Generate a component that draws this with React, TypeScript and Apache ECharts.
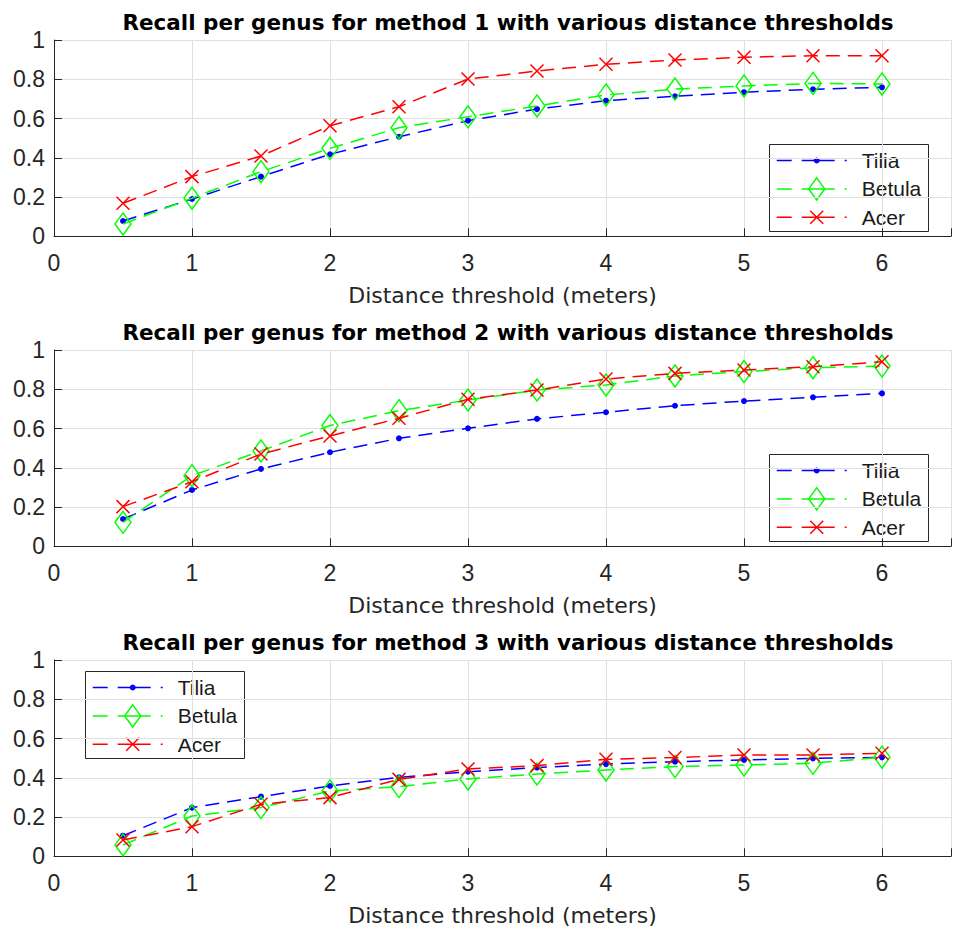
import React, { useEffect, useRef } from "react";
import * as echarts from "echarts";

// ---- Data ----
const THRESHOLDS = [0.5, 1, 1.5, 2, 2.5, 3, 3.5, 4, 4.5, 5, 5.5, 6];
const GENERA = ["Tilia", "Betula", "Acer"];
const TITLES = [
  "Recall per genus for method 1 with various distance thresholds",
  "Recall per genus for method 2 with various distance thresholds",
  "Recall per genus for method 3 with various distance thresholds",
];
const X_LABEL = "Distance threshold (meters)";

const M1_TILIA = [0.078, 0.19, 0.304, 0.418, 0.507, 0.589, 0.648, 0.691, 0.713, 0.734, 0.749, 0.759];
const M1_BETULA = [0.063, 0.194, 0.329, 0.448, 0.553, 0.609, 0.664, 0.72, 0.75, 0.766, 0.779, 0.776];
const M1_ACER = [0.168, 0.304, 0.409, 0.563, 0.66, 0.801, 0.842, 0.876, 0.898, 0.912, 0.92, 0.92];

const M2_TILIA = [0.139, 0.287, 0.394, 0.479, 0.55, 0.601, 0.649, 0.683, 0.716, 0.74, 0.759, 0.779];
const M2_BETULA = [0.122, 0.36, 0.486, 0.615, 0.691, 0.745, 0.796, 0.822, 0.868, 0.89, 0.91, 0.918];
const M2_ACER = [0.202, 0.329, 0.47, 0.562, 0.652, 0.749, 0.796, 0.852, 0.881, 0.898, 0.915, 0.94];

const M3_TILIA = [0.105, 0.248, 0.304, 0.358, 0.402, 0.431, 0.452, 0.47, 0.482, 0.491, 0.499, 0.504];
const M3_BETULA = [0.058, 0.205, 0.248, 0.333, 0.355, 0.394, 0.419, 0.44, 0.457, 0.465, 0.474, 0.505];
const M3_ACER = [0.083, 0.151, 0.265, 0.299, 0.392, 0.445, 0.462, 0.494, 0.503, 0.516, 0.516, 0.525];

const METHODS = [
  [M1_TILIA, M1_BETULA, M1_ACER],
  [M2_TILIA, M2_BETULA, M2_ACER],
  [M3_TILIA, M3_BETULA, M3_ACER],
];

// ---- Styling ----
const COLORS = ["#0000ff", "#00ff00", "#ff0000"];
const AXIS_COLOR = "#262626";
const GRID_COLOR = "#dfdfdf";
const GRID_LEFT = 54;
const GRID_WIDTH = 908;
const GRID_TOPS = [40, 350, 660];
const GRID_HEIGHT = 196.3;
const LEGEND_POS = [
  [769, 144],
  [769, 454],
  [85, 671],
];
const X_CROSS = "path://M0 0L10 10M10 0L0 10";

function seriesStyle(k: number) {
  if (k === 0) {
    return { symbol: "circle", symbolSize: 6, itemStyle: { color: COLORS[0], borderWidth: 0 } };
  }
  if (k === 1) {
    return {
      symbol: "diamond",
      symbolSize: [16, 22],
      itemStyle: { color: "none", borderColor: COLORS[1], borderWidth: 1.5 },
    };
  }
  return {
    symbol: X_CROSS,
    symbolSize: 13,
    itemStyle: { color: "none", borderColor: COLORS[2], borderWidth: 1.5 },
  };
}

function legendGroup(x: number, y: number) {
  const children: any[] = [
    {
      type: "rect",
      shape: { x: 0.5, y: 0.5, width: 159, height: 87 },
      style: { fill: "#fff", stroke: AXIS_COLOR, lineWidth: 1 },
    },
  ];
  GENERA.forEach((g, i) => {
    const cy = 16.5 + i * 28.4;
    const c = COLORS[i];
    children.push({
      type: "line",
      shape: { x1: 7.7, y1: cy, x2: 86, y2: cy },
      style: { stroke: c, lineWidth: 1.5, lineDash: [15, 10, 33, 10, 2, 100] },
    });
    const mx = 47.7;
    if (i === 0) {
      children.push({ type: "circle", shape: { cx: mx, cy, r: 3 }, style: { fill: c } });
    } else if (i === 1) {
      children.push({
        type: "polygon",
        shape: { points: [[mx, cy - 11], [mx + 8, cy], [mx, cy + 11], [mx - 8, cy]] },
        style: { fill: "none", stroke: c, lineWidth: 1.5 },
      });
    } else {
      children.push({
        type: "line",
        shape: { x1: mx - 6.5, y1: cy - 6.5, x2: mx + 6.5, y2: cy + 6.5 },
        style: { stroke: c, lineWidth: 1.5 },
      });
      children.push({
        type: "line",
        shape: { x1: mx + 6.5, y1: cy - 6.5, x2: mx - 6.5, y2: cy + 6.5 },
        style: { stroke: c, lineWidth: 1.5 },
      });
    }
    children.push({
      type: "text",
      x: 92.7,
      y: cy,
      style: {
        text: g,
        fill: "#1a1a1a",
        font: '21px "Liberation Sans", Arial, sans-serif',
        textAlign: "left",
        textVerticalAlign: "middle",
        align: "left",
        verticalAlign: "middle",
      },
    });
  });
  return { type: "group", x, y, silent: true, z: 100, children };
}

export default function App() {
  const ref = useRef<HTMLDivElement>(null);

  useEffect(() => {
    if (!ref.current) return;
    const chart = echarts.init(ref.current, undefined, { renderer: "svg" });

    const grids = GRID_TOPS.map((top) => ({
      left: GRID_LEFT,
      top,
      width: GRID_WIDTH,
      height: GRID_HEIGHT,
      containLabel: false,
    }));

    const xAxes = GRID_TOPS.map((_, i) => ({
      type: "value",
      gridIndex: i,
      min: 0,
      max: 6.5,
      interval: 1,
      name: X_LABEL,
      nameLocation: "middle",
      nameGap: 48,
      nameTextStyle: { fontFamily: "DejaVu Sans", fontSize: 22, color: AXIS_COLOR },
      axisLine: { show: true, onZero: false, lineStyle: { color: AXIS_COLOR, width: 1 } },
      axisTick: { show: true, inside: true, length: 8, lineStyle: { color: AXIS_COLOR } },
      axisLabel: {
        margin: 15,
        color: AXIS_COLOR,
        fontSize: 23,
        fontFamily: "Liberation Sans",
        formatter: (v: number) => (Number.isInteger(v) ? String(v) : ""),
      },
      splitLine: { show: true, lineStyle: { color: GRID_COLOR, width: 1 } },
    }));

    const yAxes = GRID_TOPS.map((_, i) => ({
      type: "value",
      gridIndex: i,
      min: 0,
      max: 1,
      interval: 0.2,
      axisLine: { show: true, onZero: false, lineStyle: { color: AXIS_COLOR, width: 1 } },
      axisTick: { show: true, inside: true, length: 8, lineStyle: { color: AXIS_COLOR } },
      axisLabel: {
        margin: 9,
        color: AXIS_COLOR,
        fontSize: 23,
        fontFamily: "Liberation Sans",
      },
      splitLine: { show: true, lineStyle: { color: GRID_COLOR, width: 1 } },
    }));

    const series: any[] = [];
    METHODS.forEach((method, i) => {
      method.forEach((vals, k) => {
        series.push({
          type: "line",
          name: GENERA[k],
          xAxisIndex: i,
          yAxisIndex: i,
          data: THRESHOLDS.map((x, j) => [x, vals[j]]),
          ...seriesStyle(k),
          lineStyle: { color: COLORS[k], width: 1.5, type: [14, 8] },
          emphasis: { disabled: true },
          silent: true,
          z: 2 + k,
        });
      });
    });

    const titles = TITLES.map((t, i) => ({
      text: t,
      left: GRID_LEFT + GRID_WIDTH / 2,
      top: GRID_TOPS[i] - 28.75,
      textAlign: "center",
      padding: 0,
      textStyle: { fontFamily: "DejaVu Sans", fontWeight: "bold", fontSize: 21.5, color: "#000" },
    }));

    chart.setOption({
      animation: false,
      backgroundColor: "#fff",
      title: titles,
      grid: grids,
      xAxis: xAxes,
      yAxis: yAxes,
      series,
      graphic: LEGEND_POS.map(([x, y]) => legendGroup(x, y)),
    });

    return () => chart.dispose();
  }, []);

  return (
    <div
      ref={ref}
      style={{ position: "absolute", left: 0, top: 0, width: 954, height: 931, background: "#fff" }}
    />
  );
}
